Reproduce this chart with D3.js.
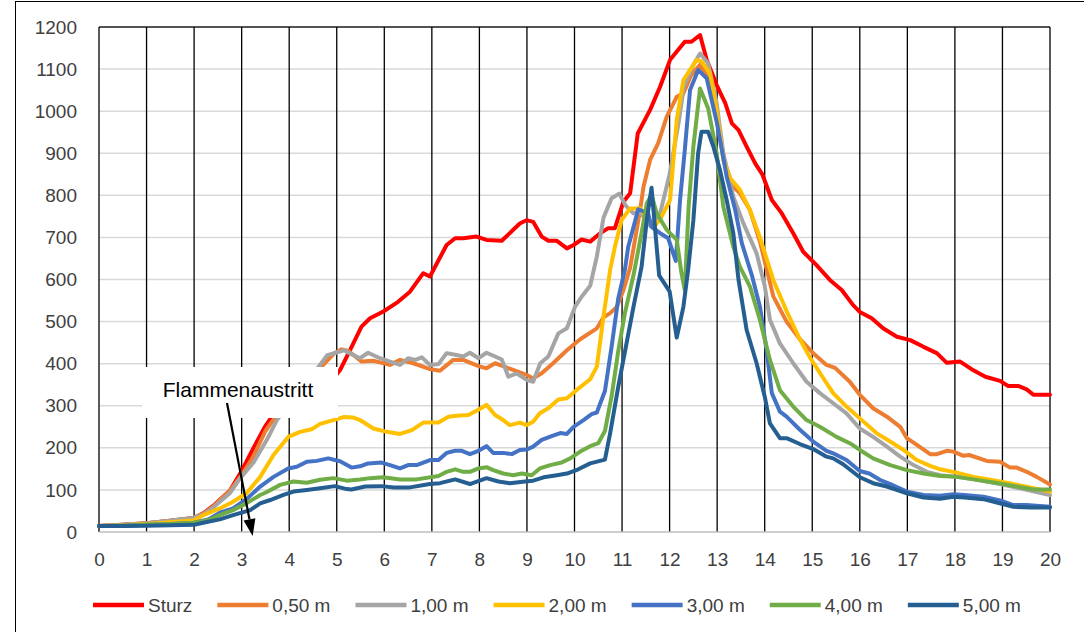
<!DOCTYPE html>
<html><head><meta charset="utf-8">
<script src="https://cdn.jsdelivr.net/npm/d3@7"></script>
<style>body{margin:0;background:#fff;}svg{display:block;}</style>
</head><body>
<svg id="chart" width="1084" height="632"></svg>
<script>
// ---- data (time in minutes, temperature) ----
const seriesNames = ["Sturz","0,50 m","1,00 m","2,00 m","3,00 m","4,00 m","5,00 m"];
const seriesColors = ["#FF0000","#ED7D31","#A5A5A5","#FFC000","#4472C4","#70AD47","#255E91"];
const xTicks = d3.range(0,21,1);
const yTicks = d3.range(0,1201,100);
const annotationText = "Flammenaustritt";

const sturz = [[0,14],[0.5,17],[1,21],[1.5,27],[2,33],[2.2,45],[2.4,62],[2.75,98],[3.0,145],[3.25,200],[3.5,252],[3.8,300],[4.0,320],[4.5,350],[5.0,375],[5.07,385],[5.28,432],[5.52,488],[5.7,508],[5.98,524],[6.29,547],[6.54,571],[6.82,615],[6.96,607],[7.31,682],[7.49,698],[7.66,698],[7.94,702],[8.15,694],[8.47,692],[8.85,733],[8.99,741],[9.13,737],[9.31,702],[9.45,692],[9.63,692],[9.84,674],[9.98,682],[10.15,695],[10.33,690],[10.54,710],[10.71,722],[10.85,722],[11.03,785],[11.17,805],[11.33,947],[11.59,1003],[11.8,1058],[12.01,1122],[12.32,1165],[12.46,1165],[12.64,1181],[12.78,1122],[12.99,1062],[13.17,1019],[13.31,971],[13.45,955],[13.62,916],[13.8,876],[13.95,850],[14.15,789],[14.36,757],[14.6,710],[14.81,666],[15.09,634],[15.37,599],[15.62,575],[15.86,539],[16.0,523],[16.25,508],[16.49,484],[16.78,464],[17.06,456],[17.34,440],[17.62,425],[17.83,402],[18.11,405],[18.35,387],[18.64,369],[18.95,359],[19.12,347],[19.33,347],[19.51,339],[19.65,326],[20,326]];

const m050 = [[0,14],[0.5,17],[1,21],[1.5,27],[2,34],[2.2,44],[2.4,60],[2.75,98],[3.0,135],[3.25,180],[3.5,240],[3.75,280],[4.2,340],[4.68,393],[4.95,425],[5.1,434],[5.25,430],[5.52,405],[5.77,407],[6.12,397],[6.33,409],[6.61,401],[6.96,387],[7.17,383],[7.45,409],[7.66,409],[8.01,393],[8.15,389],[8.33,401],[8.5,394],[8.71,385],[9.0,373],[9.13,365],[9.31,377],[9.55,401],[9.84,432],[10.12,458],[10.47,484],[10.61,510],[10.75,520],[10.89,535],[11.03,575],[11.17,628],[11.38,765],[11.45,820],[11.59,884],[11.76,924],[11.94,987],[12.15,1034],[12.29,1042],[12.45,1085],[12.64,1110],[12.8,1080],[12.99,990],[13.15,880],[13.34,820],[13.48,805],[13.69,765],[13.9,690],[14.18,560],[14.46,500],[14.74,458],[15.02,425],[15.3,397],[15.48,390],[15.79,357],[16.0,326],[16.28,294],[16.57,274],[16.85,250],[16.99,223],[17.2,207],[17.48,185],[17.62,185],[17.83,193],[17.97,191],[18.18,181],[18.3,183],[18.67,169],[18.95,167],[19.16,153],[19.3,153],[19.51,143],[19.72,131],[20,113]];

const m100 = [[0,14],[0.5,17],[1,21],[1.5,27],[2,34],[2.2,42],[2.4,58],[2.75,92],[2.97,128],[3.25,165],[3.53,219],[3.74,266],[4.2,330],[4.8,420],[5.17,432],[5.21,428],[5.49,413],[5.66,426],[5.91,413],[6.12,405],[6.33,397],[6.5,413],[6.65,409],[6.79,415],[6.96,397],[7.14,399],[7.31,425],[7.49,421],[7.66,417],[7.8,426],[7.98,413],[8.15,426],[8.33,417],[8.47,410],[8.61,369],[8.78,377],[9.0,361],[9.13,357],[9.28,401],[9.45,417],[9.66,472],[9.84,484],[10.01,535],[10.15,559],[10.33,585],[10.47,655],[10.61,747],[10.78,793],[10.94,804],[11.08,775],[11.24,757],[11.38,761],[11.59,728],[11.8,757],[12.0,850],[12.2,980],[12.3,1058],[12.5,1110],[12.64,1137],[12.81,1114],[12.99,1019],[13.13,900],[13.34,797],[13.55,734],[13.83,662],[14.0,585],[14.11,504],[14.32,448],[14.6,401],[14.88,357],[15.16,330],[15.44,306],[15.72,282],[16.0,246],[16.28,226],[16.57,203],[16.85,179],[17.13,159],[17.41,143],[17.69,135],[18.04,131],[18.39,126],[18.95,114],[19.51,100],[20,88]];

const m200 = [[0,14],[0.5,16],[1,19],[1.5,23],[2,28],[2.19,40],[2.54,56],[2.82,72],[3.1,92],[3.39,131],[3.67,183],[3.98,226],[4.23,238],[4.47,244],[4.65,257],[4.93,266],[5.14,273],[5.35,272],[5.49,266],[5.77,246],[6.05,238],[6.33,233],[6.58,242],[6.82,260],[7.14,260],[7.35,274],[7.52,276],[7.77,278],[7.94,288],[8.15,302],[8.33,278],[8.5,266],[8.64,254],[8.85,260],[8.99,254],[9.13,262],[9.27,282],[9.45,294],[9.66,315],[9.84,318],[10.04,337],[10.33,363],[10.47,393],[10.61,512],[10.75,623],[10.85,678],[10.99,741],[11.17,769],[11.38,769],[11.55,741],[11.66,722],[11.83,749],[12.01,789],[12.15,979],[12.29,1074],[12.43,1098],[12.57,1122],[12.67,1118],[12.85,1090],[12.99,1003],[13.13,884],[13.27,841],[13.48,813],[13.69,765],[13.9,700],[14.18,599],[14.46,525],[14.74,458],[14.95,415],[15.23,366],[15.44,330],[15.72,298],[16.0,270],[16.35,235],[16.64,215],[16.92,195],[17.2,171],[17.48,157],[17.69,149],[18.04,141],[18.39,131],[18.74,124],[19.09,117],[19.58,106],[20,96]];

const m300 = [[0,14],[0.5,15],[1,17],[1.5,19],[2,22],[2.3,30],[2.54,46],[2.82,56],[3.1,78],[3.39,108],[3.67,131],[3.98,151],[4.16,155],[4.37,167],[4.58,169],[4.82,175],[5.07,168],[5.31,153],[5.49,156],[5.66,163],[5.94,165],[6.12,159],[6.33,151],[6.5,159],[6.68,159],[6.96,171],[7.14,171],[7.31,188],[7.49,193],[7.63,193],[7.8,185],[7.98,193],[8.15,204],[8.29,188],[8.5,188],[8.68,185],[8.85,195],[9.0,196],[9.13,203],[9.31,219],[9.52,228],[9.7,235],[9.84,233],[9.98,250],[10.19,266],[10.36,280],[10.47,284],[10.64,335],[10.78,440],[10.92,555],[11.06,623],[11.13,678],[11.34,767],[11.55,757],[11.62,725],[11.8,710],[11.97,698],[12.13,644],[12.22,789],[12.32,908],[12.43,1050],[12.6,1098],[12.78,1078],[12.99,975],[13.2,845],[13.38,765],[13.52,686],[13.73,610],[13.9,535],[14.04,432],[14.15,330],[14.32,286],[14.46,274],[14.74,243],[15.02,215],[15.3,193],[15.44,187],[15.72,171],[16.0,145],[16.2,139],[16.42,124],[16.64,114],[16.99,96],[17.34,88],[17.69,86],[17.97,90],[18.2,88],[18.6,84],[18.95,75],[19.23,64],[19.5,64],[20,60]];

const m400 = [[0,14],[0.5,15],[1,17],[1.5,19],[2,22],[2.3,28],[2.54,40],[2.82,52],[3.1,68],[3.39,88],[3.53,95],[3.81,112],[4.09,120],[4.37,117],[4.65,124],[4.93,128],[5.21,122],[5.49,125],[5.7,128],[5.98,130],[6.33,125],[6.68,125],[7.14,133],[7.31,143],[7.49,149],[7.66,143],[7.8,143],[7.98,151],[8.15,154],[8.29,147],[8.5,139],[8.71,135],[8.89,139],[9.1,135],[9.27,151],[9.49,159],[9.73,165],[9.91,175],[10.12,191],[10.33,204],[10.5,211],[10.64,240],[10.78,322],[10.92,430],[11.06,520],[11.24,610],[11.41,710],[11.52,781],[11.62,801],[11.73,757],[11.94,718],[12.15,694],[12.25,615],[12.32,575],[12.4,773],[12.5,916],[12.64,1054],[12.81,1007],[12.99,900],[13.13,773],[13.34,678],[13.48,630],[13.69,583],[13.9,504],[14.11,409],[14.32,337],[14.6,298],[14.88,266],[15.16,250],[15.51,226],[15.79,211],[16.0,195],[16.28,175],[16.64,159],[16.99,147],[17.34,139],[17.69,133],[18.04,131],[18.39,125],[18.85,117],[19.3,108],[19.65,101],[20,101]];

const m500 = [[0,14],[0.5,14],[1,15],[1.5,16],[2,17],[2.19,22],[2.54,30],[2.82,40],[3.18,52],[3.39,68],[3.6,76],[3.88,88],[4.09,96],[4.37,100],[4.65,104],[4.96,109],[5.21,102],[5.31,101],[5.6,108],[5.94,109],[6.2,106],[6.54,106],[6.96,114],[7.17,116],[7.49,125],[7.8,114],[8.15,128],[8.4,120],[8.64,116],[8.96,120],[9.13,122],[9.35,130],[9.63,135],[9.84,139],[10.08,149],[10.33,163],[10.64,172],[10.75,235],[10.92,345],[11.1,452],[11.24,535],[11.41,630],[11.52,741],[11.62,818],[11.78,610],[12.0,572],[12.15,462],[12.29,535],[12.39,623],[12.5,741],[12.6,900],[12.67,951],[12.81,951],[12.92,916],[13.06,860],[13.2,789],[13.34,710],[13.45,599],[13.62,480],[13.83,401],[14.0,322],[14.11,258],[14.32,223],[14.46,223],[14.74,209],[15.02,197],[15.3,179],[15.44,175],[15.65,161],[16.0,130],[16.28,116],[16.57,108],[16.99,92],[17.34,82],[17.69,79],[17.97,84],[18.2,82],[18.6,78],[18.88,70],[19.23,60],[19.6,58],[20,58]];

const seriesData = [sturz, m050, m100, m200, m300, m400, m500];

// ---- drawing ----
const svg = d3.select("#chart");
const W = 1084, H = 632;
const x = d3.scaleLinear().domain([0,20]).range([99,1050]);
const y = d3.scaleLinear().domain([0,1200]).range([532,27]);
const font = "'Liberation Sans', Arial, sans-serif";

// outer chart border (left and top visible)
svg.append("rect").attr("x",15.5).attr("y",1.5).attr("width",W+20).attr("height",H+20)
  .attr("fill","#fff").attr("stroke","#000").attr("stroke-width",1);

// horizontal gridlines
svg.append("g").selectAll("line").data(yTicks.filter(d=>d>0 && d<1200)).join("line")
  .attr("x1",x(0)).attr("x2",x(20)).attr("y1",d=>y(d)).attr("y2",d=>y(d))
  .attr("stroke","#d9d9d9").attr("stroke-width",1.5);
// top line
svg.append("line").attr("x1",x(0)).attr("x2",x(20)).attr("y1",y(1200)).attr("y2",y(1200))
  .attr("stroke","#1a1a1a").attr("stroke-width",1.3);
// vertical gridlines
svg.append("g").selectAll("line").data(xTicks).join("line")
  .attr("x1",d=>x(d)).attr("x2",d=>x(d)).attr("y1",y(1200)).attr("y2",y(0))
  .attr("stroke","#000").attr("stroke-width",1.3);
// x axis line
svg.append("line").attr("x1",x(0)).attr("x2",x(20)).attr("y1",y(0)).attr("y2",y(0))
  .attr("stroke","#bfbfbf").attr("stroke-width",1.5);

// y axis labels
const yAxis = d3.axisLeft(y).tickValues(yTicks).tickSize(0).tickPadding(0).tickFormat(d3.format("d"));
const gy = svg.append("g").attr("transform","translate(77,0)").call(yAxis);
gy.select(".domain").remove();
gy.selectAll("text").attr("font-family",font).attr("font-size",19).attr("fill","#404040");

// x axis labels
const xAxis = d3.axisBottom(x).tickValues(xTicks).tickSize(0).tickPadding(0).tickFormat(d3.format("d"));
const gx = svg.append("g").attr("transform","translate(0,552)").call(xAxis);
gx.select(".domain").remove();
gx.selectAll("text").attr("font-family",font).attr("font-size",19).attr("fill","#404040").attr("dy","0.72em");

// series lines
const line = d3.line().x(d=>x(d[0])).y(d=>y(d[1]));
svg.append("g").selectAll("path").data(seriesData).join("path")
  .attr("d",d=>line(d)).attr("fill","none")
  .attr("stroke",(d,i)=>seriesColors[i]).attr("stroke-width",4)
  .attr("stroke-linejoin","round").attr("stroke-linecap","round");

// annotation box
svg.append("rect").attr("x",142).attr("y",367).attr("width",196).attr("height",51).attr("fill","#fff");
svg.append("text").attr("x",238).attr("y",397).attr("text-anchor","middle")
  .attr("font-family",font).attr("font-size",21).attr("fill","#000").text(annotationText);
// arrow with filled head
const a0 = [227,403], a1 = [252.7,536];
const dx = a1[0]-a0[0], dy = a1[1]-a0[1], len = Math.hypot(dx,dy);
const ux = dx/len, uy = dy/len, hl = 17, hw = 6;
const bx = a1[0]-ux*hl, by = a1[1]-uy*hl;
svg.append("line").attr("x1",a0[0]).attr("y1",a0[1]).attr("x2",bx).attr("y2",by)
  .attr("stroke","#000").attr("stroke-width",2.2);
svg.append("path").attr("d",`M${a1[0]},${a1[1]}L${bx+uy*hw},${by-ux*hw}L${bx-uy*hw},${by+ux*hw}Z`)
  .attr("fill","#000");

// legend
const lg = svg.append("g");
let lx = 93;
seriesNames.forEach((name,i)=>{
  lg.append("line").attr("x1",lx).attr("x2",lx+51).attr("y1",605).attr("y2",605)
    .attr("stroke",seriesColors[i]).attr("stroke-width",4.5);
  const t = lg.append("text").attr("x",lx+55).attr("y",612).attr("font-family",font)
    .attr("font-size",19).attr("fill","#404040").text(name);
  const w = t.node().getComputedTextLength();
  lx = lx + 55 + w + 25;
});
</script>
</body></html>
